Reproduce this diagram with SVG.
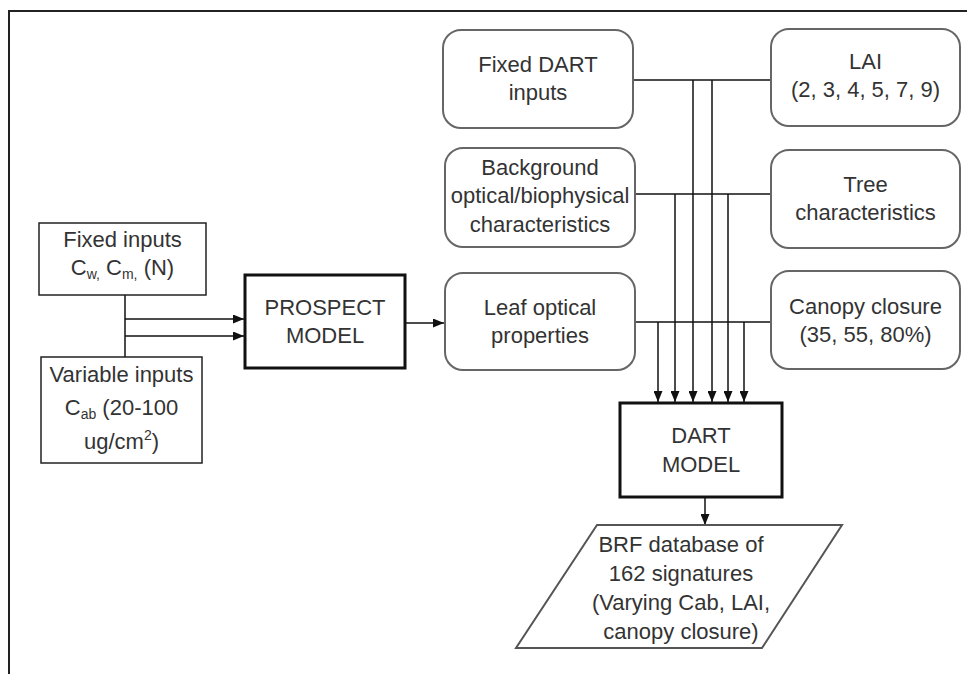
<svg xmlns="http://www.w3.org/2000/svg" width="967" height="674" viewBox="0 0 967 674">
<style>
  .t { font-family: "Liberation Sans", Arial, sans-serif; font-size: 22px; fill: #333; text-anchor: middle; }
  .rbox { fill: #fff; stroke: #666; stroke-width: 2; }
  .box { fill: #fff; stroke: #222; stroke-width: 1.5; }
  .tbox { fill: #fff; stroke: #111; stroke-width: 3; }
  .ln { fill: none; stroke: #111; stroke-width: 1.5; }
  .arr { fill: none; stroke: #111; stroke-width: 1.5; marker-end: url(#ah); }
</style>
<defs>
  <marker id="ah" viewBox="0 0 11 9" refX="11" refY="4.5" markerWidth="11" markerHeight="9" orient="auto" markerUnits="userSpaceOnUse">
    <path d="M0,0 L11,4.5 L0,9 z" fill="#111"/>
  </marker>
</defs>
<rect x="0" y="0" width="967" height="674" fill="#fff"/>
<path d="M9,674 V11 H967" fill="none" stroke="#222" stroke-width="2"/>

<g id="connectors">
  <line class="ln" x1="125" y1="295" x2="125" y2="357"/>
  <line class="arr" x1="125" y1="319" x2="244" y2="319"/>
  <line class="arr" x1="125" y1="336" x2="244" y2="336"/>
  <line class="arr" x1="405" y1="323" x2="444" y2="323"/>
  <line class="ln" x1="633" y1="80" x2="771" y2="80"/>
  <line class="ln" x1="635" y1="194" x2="771" y2="194"/>
  <line class="ln" x1="635" y1="322" x2="771" y2="322"/>
  <line class="arr" x1="658" y1="322" x2="658" y2="402"/>
  <line class="arr" x1="675" y1="194" x2="675" y2="402"/>
  <line class="arr" x1="693" y1="80" x2="693" y2="402"/>
  <line class="arr" x1="712" y1="80" x2="712" y2="402"/>
  <line class="arr" x1="728" y1="194" x2="728" y2="402"/>
  <line class="arr" x1="744" y1="322" x2="744" y2="402"/>
  <line class="arr" x1="705" y1="498" x2="705" y2="525"/>
</g>

<g id="fixed-inputs">
  <rect class="box" x="39" y="223" width="167" height="72"/>
  <text class="t" x="122.5" y="247">Fixed inputs</text>
  <text class="t" x="122.5" y="275">C<tspan font-size="14" dy="4">w,</tspan><tspan dy="-4"> C</tspan><tspan font-size="14" dy="4">m,</tspan><tspan dy="-4"> (N)</tspan></text>
</g>

<g id="variable-inputs">
  <rect class="box" x="41" y="357" width="161" height="106"/>
  <text class="t" x="121.5" y="382">Variable inputs</text>
  <text class="t" x="121.5" y="415">C<tspan font-size="14" dy="4">ab</tspan><tspan dy="-4"> (20-100</tspan></text>
  <text class="t" x="121.5" y="449">ug/cm<tspan font-size="14" dy="-9">2</tspan><tspan dy="9">)</tspan></text>
</g>

<g id="prospect">
  <rect class="tbox" x="245" y="275" width="160" height="93"/>
  <text class="t" x="325" y="315">PROSPECT</text>
  <text class="t" x="325" y="343">MODEL</text>
</g>

<g id="fixed-dart">
  <rect class="rbox" x="443" y="30" width="190" height="98" rx="18"/>
  <text class="t" x="538" y="72">Fixed DART</text>
  <text class="t" x="538" y="100">inputs</text>
</g>

<g id="lai">
  <rect class="rbox" x="771" y="29" width="189" height="97" rx="18"/>
  <text class="t" x="865.5" y="69">LAI</text>
  <text class="t" x="865.5" y="97">(2, 3, 4, 5, 7, 9)</text>
</g>

<g id="background">
  <rect class="rbox" x="445" y="148" width="190" height="99" rx="18"/>
  <text class="t" x="540" y="175">Background</text>
  <text class="t" x="540" y="203">optical/biophysical</text>
  <text class="t" x="540" y="232">characteristics</text>
</g>

<g id="tree">
  <rect class="rbox" x="771" y="150" width="189" height="98" rx="18"/>
  <text class="t" x="865.5" y="192">Tree</text>
  <text class="t" x="865.5" y="220">characteristics</text>
</g>

<g id="leaf">
  <rect class="rbox" x="445" y="273" width="190" height="97" rx="18"/>
  <text class="t" x="540" y="315">Leaf optical</text>
  <text class="t" x="540" y="343">properties</text>
</g>

<g id="canopy">
  <rect class="rbox" x="771" y="271" width="189" height="98" rx="18"/>
  <text class="t" x="865.5" y="314">Canopy closure</text>
  <text class="t" x="865.5" y="342">(35, 55, 80%)</text>
</g>

<g id="dart">
  <rect class="tbox" x="620" y="403" width="162" height="94"/>
  <text class="t" x="701" y="443">DART</text>
  <text class="t" x="701" y="472">MODEL</text>
</g>

<g id="brf">
  <polygon points="597,525 842,525 762,648 516,648" fill="#fff" stroke="#555" stroke-width="2"/>
  <text class="t" x="681" y="552">BRF database of</text>
  <text class="t" x="681" y="581">162 signatures</text>
  <text class="t" x="681" y="610">(Varying Cab, LAI,</text>
  <text class="t" x="681" y="639">canopy closure)</text>
</g>
</svg>
